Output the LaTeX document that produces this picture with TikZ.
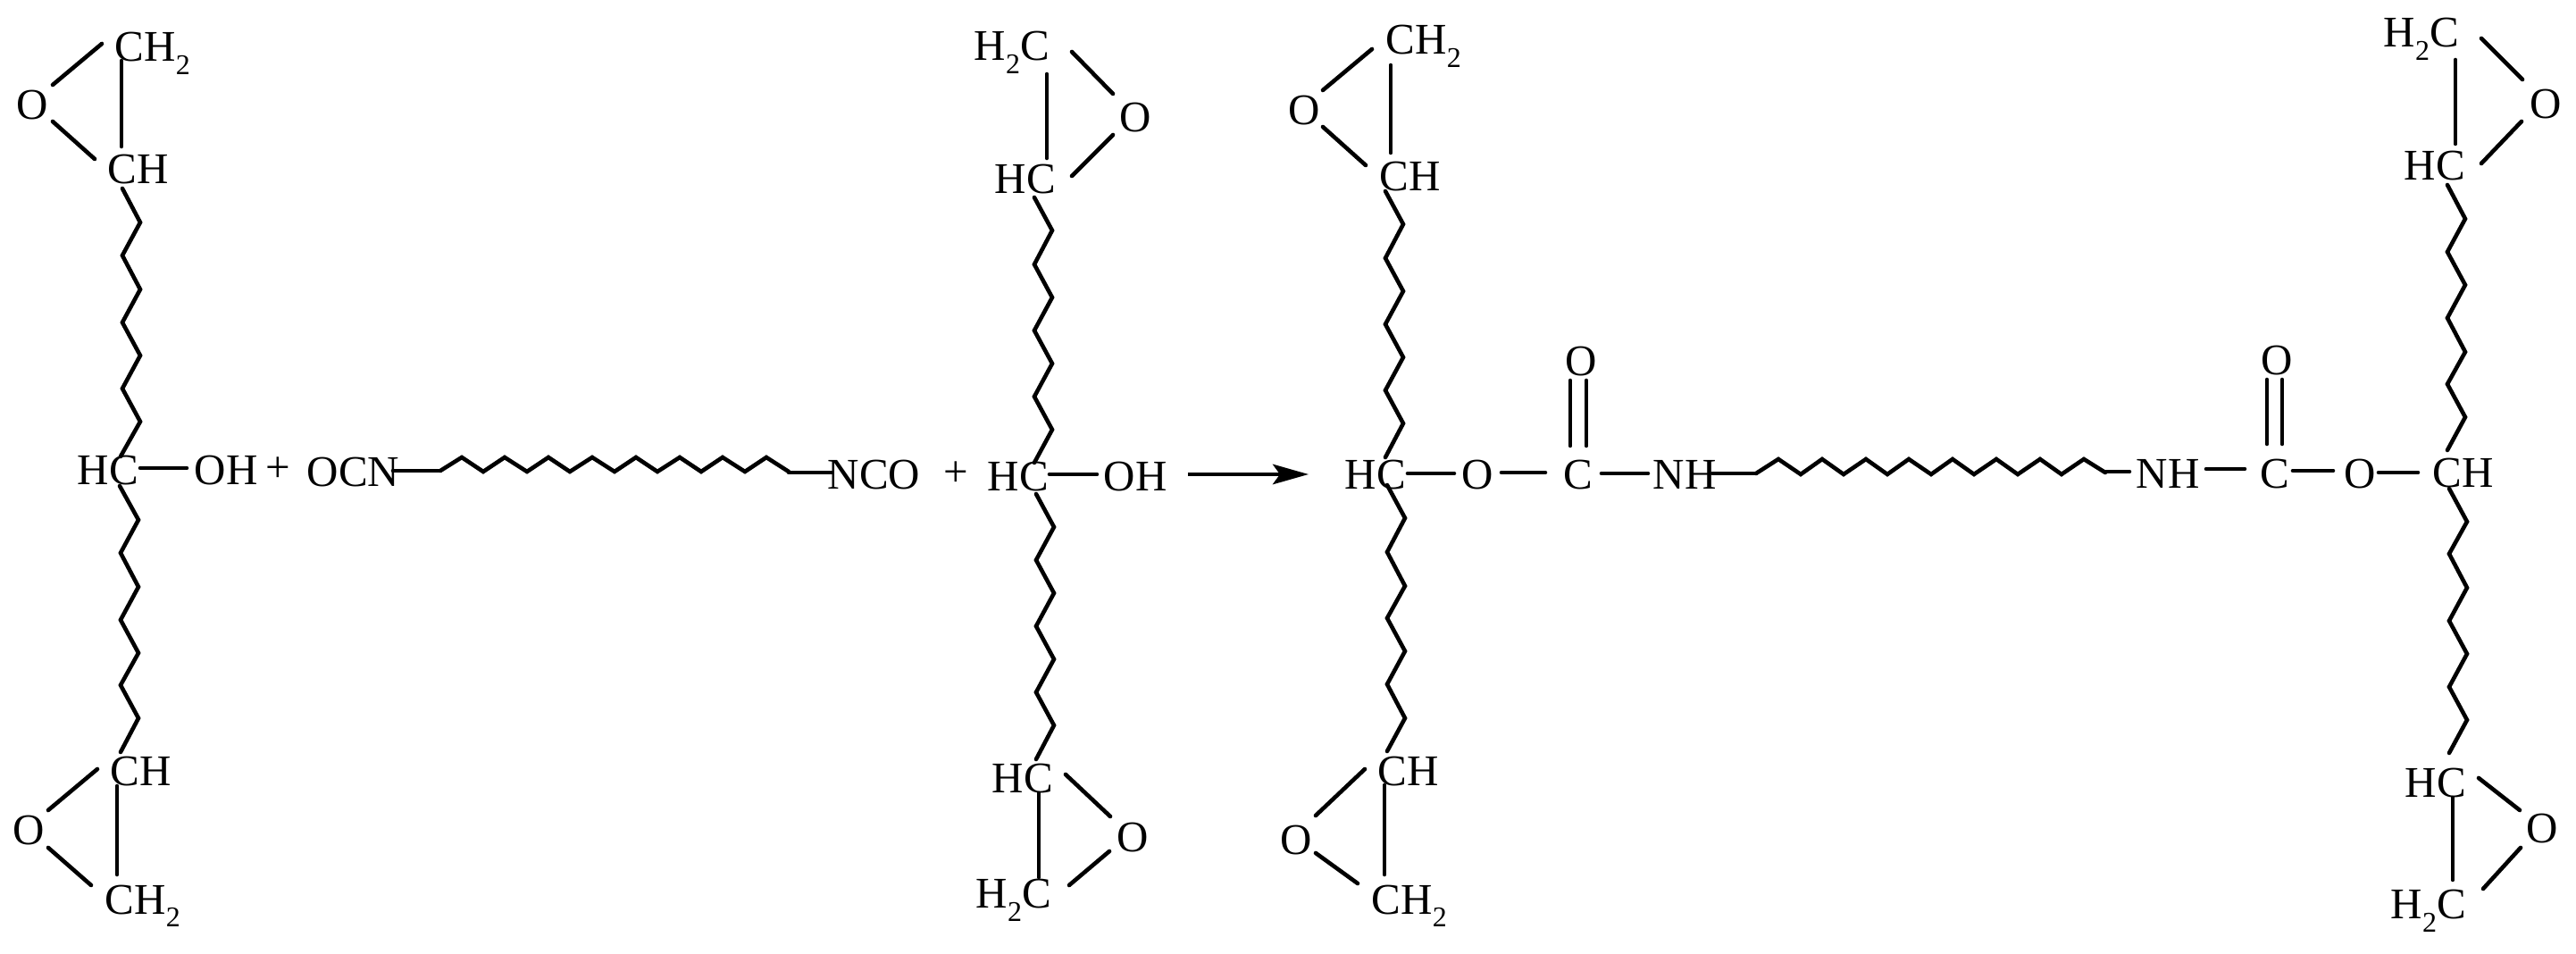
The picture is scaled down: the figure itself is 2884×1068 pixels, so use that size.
\documentclass[tikz,border=0pt]{standalone}
\usepackage{fontspec}
\setmainfont{Liberation Serif}
\usetikzlibrary{arrows.meta}
\newcommand{\subtwo}{\raisebox{-3.7pt}{\fontsize{8}{9}\selectfont 2}}
% name, number of points, list of x/y : named coordinates joined in order
\newcommand{\bondline}[3]{%
  \foreach \px/\py [count=\ci] in {#3} {\coordinate (#1-\ci) at (\px,\py);}
  \draw[bond] (#1-1) \foreach \cj in {2,...,#2} {-- (#1-\cj)};
}
\tikzset{
  chem/.style={font=\fontsize{12.25}{14}\selectfont, inner sep=0pt, anchor=base west, text=black},
  bond/.style={draw=black, line width=1.15pt, line cap=round, line join=miter},
  reaction/.style={draw=black, line width=1.05pt, -{Stealth[length=10pt,width=5.6pt,inset=2pt]}}
}
\begin{document}
\begin{tikzpicture}[x=0.25pt,y=-0.25pt]
\useasboundingbox (0,0) rectangle (2884,1068);

% ---------- first epoxy alcohol ----------
\node[chem] (aCHt) at (128,69) {CH\subtwo};
\node[chem] (aOt) at (18,134) {O};
\node[chem] (aCHu) at (120,206) {CH};
\node[chem] (aHC) at (86,543) {HC};
\node[chem] (aOH) at (217,543) {OH};
\node[chem] (plusA) at (297,540) {+};
\node[chem] (aCHl) at (123,880) {CH};
\node[chem] (aOb) at (14,946) {O};
\node[chem] (aCHb) at (117,1023) {CH\subtwo};
\bondline{a1}{2}{59/95,114/49}
\bondline{a2}{2}{59/136,106/178}
\bondline{a3}{2}{136/68,136/164}
\bondline{a4}{9}{137/211,157/249,137/286,157/324,137/361,157/398,137/435,157/472,135/511}
\bondline{a5}{2}{157/524,209/524}
\bondline{a6}{9}{134/544,155/582,135/619,155/657,135/694,155/731,135/767,155/804,135/842}
\bondline{a7}{2}{54/907,109/861}
\bondline{a8}{2}{54/949,102/991}
\bondline{a9}{2}{131/880,131/979}

% ---------- diisocyanate ----------
\node[chem] (bOCN) at (343,545) {OCN};
\node[chem] (bNCO) at (926,548) {NCO};
\node[chem] (plusB) at (1056,545) {+};
\bondline{b1}{2}{440/527,493/527}
\bondline{b2}{17}{493/527,517/512,541/528,565/512,590/528,614/512,638/528,663/512,688/528,712/512,736/528,761/512,785/528,809/512,834/528,858/512,883/528}
\bondline{b3}{2}{883/529,931/529}

% ---------- second epoxy alcohol ----------
\node[chem] (cHtC) at (1090,68) {H\subtwo C};
\node[chem] (cOt) at (1253,148) {O};
\node[chem] (cHCu) at (1113,217) {HC};
\node[chem] (cHC) at (1105,550) {HC};
\node[chem] (cOH) at (1235,550) {OH};
\node[chem] (cHCl) at (1110,888) {HC};
\node[chem] (cOb) at (1250,954) {O};
\node[chem] (cHbC) at (1092,1017) {H\subtwo C};
\bondline{c1}{2}{1200/58,1246/105}
\bondline{c2}{2}{1200/197,1246/151}
\bondline{c3}{2}{1172/83,1172/177}
\bondline{c4}{9}{1158/221,1178/258,1158/296,1178/333,1158/370,1178/407,1158/444,1178/481,1158/518}
\bondline{c5}{2}{1175/531,1228/531}
\bondline{c6}{9}{1160/553,1180/590,1160/627,1180/664,1160/701,1180/738,1160/775,1180/812,1160/850}
\bondline{c7}{2}{1193/867,1243/914}
\bondline{c8}{2}{1197/991,1242/953}
\bondline{c9}{2}{1163/888,1163/982}

% ---------- reaction arrow ----------
\coordinate (arrowS) at (1330,531);
\coordinate (arrowE) at (1465,531);
\draw[reaction] (arrowS) -- (arrowE);

% ---------- product, left part ----------
\node[chem] (dCHt) at (1551,61) {CH\subtwo};
\node[chem] (dOt) at (1442,140) {O};
\node[chem] (dCHu) at (1544,214) {CH};
\node[chem] (dHC) at (1505,548) {HC};
\node[chem] (dO) at (1636,548) {O};
\node[chem] (dC) at (1750,548) {C};
\node[chem] (dOd) at (1752,421) {O};
\node[chem] (dNH) at (1850,548) {NH};
\node[chem] (dCHl) at (1542,880) {CH};
\node[chem] (dOb) at (1433,957) {O};
\node[chem] (dCHb) at (1535,1023) {CH\subtwo};
\bondline{d1}{2}{1481/101,1536/55}
\bondline{d2}{2}{1481/142,1529/185}
\bondline{d3}{2}{1557/73,1557/171}
\bondline{d4}{9}{1551/214,1571/251,1551/289,1571/326,1551/363,1571/400,1551/437,1571/474,1551/512}
\bondline{d5}{2}{1576/530,1628/530}
\bondline{d6}{2}{1681/529,1730/529}
\bondline{d7}{2}{1793/530,1845/530}
\bondline{d8}{2}{1758/426,1758/499}
\bondline{d9}{2}{1776/426,1776/499}
\bondline{d10}{9}{1553/543,1573/580,1553/618,1573/656,1553/692,1573/729,1553/766,1573/804,1553/841}
\bondline{d11}{2}{1473/913,1528/861}
\bondline{d12}{2}{1473/955,1520/989}
\bondline{d13}{2}{1550/879,1550/979}

% ---------- product, central chain ----------
\bondline{e1}{2}{1917/530,1966/530}
\bondline{e2}{17}{1966/530,1991/514,2016/531,2040/514,2064/531,2089/514,2113/531,2137/514,2162/531,2186/514,2210/531,2235/514,2259/531,2284/514,2308/531,2333/514,2357/529}
\bondline{e3}{2}{2357/528,2384/528}

% ---------- product, right part ----------
\node[chem] (fNH) at (2391,547) {NH};
\node[chem] (fC) at (2530,547) {C};
\node[chem] (fOd) at (2531,420) {O};
\node[chem] (fO) at (2624,547) {O};
\node[chem] (fCH) at (2723,546) {CH};
\node[chem] (fHtC) at (2668,53) {H\subtwo C};
\node[chem] (fOt) at (2832,133) {O};
\node[chem] (fHCu) at (2691,202) {HC};
\node[chem] (fHCl) at (2692,893) {HC};
\node[chem] (fOb) at (2828,944) {O};
\node[chem] (fHbC) at (2676,1029) {H\subtwo C};
\bondline{f1}{2}{2470/525,2513/525}
\bondline{f2}{2}{2567/527,2612/527}
\bondline{f3}{2}{2663/529,2707/529}
\bondline{f4}{2}{2538/425,2538/497}
\bondline{f5}{2}{2555/425,2555/497}
\bondline{f6}{2}{2778/43,2824/89}
\bondline{f7}{2}{2778/183,2823/136}
\bondline{f8}{2}{2749/67,2749/161}
\bondline{f9}{9}{2740/207,2760/245,2740/282,2760/319,2740/356,2760/394,2740/430,2760/467,2740/504}
\bondline{f10}{9}{2742/547,2762/584,2742/620,2762/658,2742/695,2762/732,2742/769,2762/806,2742/843}
\bondline{f11}{2}{2775/871,2821/907}
\bondline{f12}{2}{2780/995,2822/949}
\bondline{f13}{2}{2746/893,2746/985}
\end{tikzpicture}
\end{document}
